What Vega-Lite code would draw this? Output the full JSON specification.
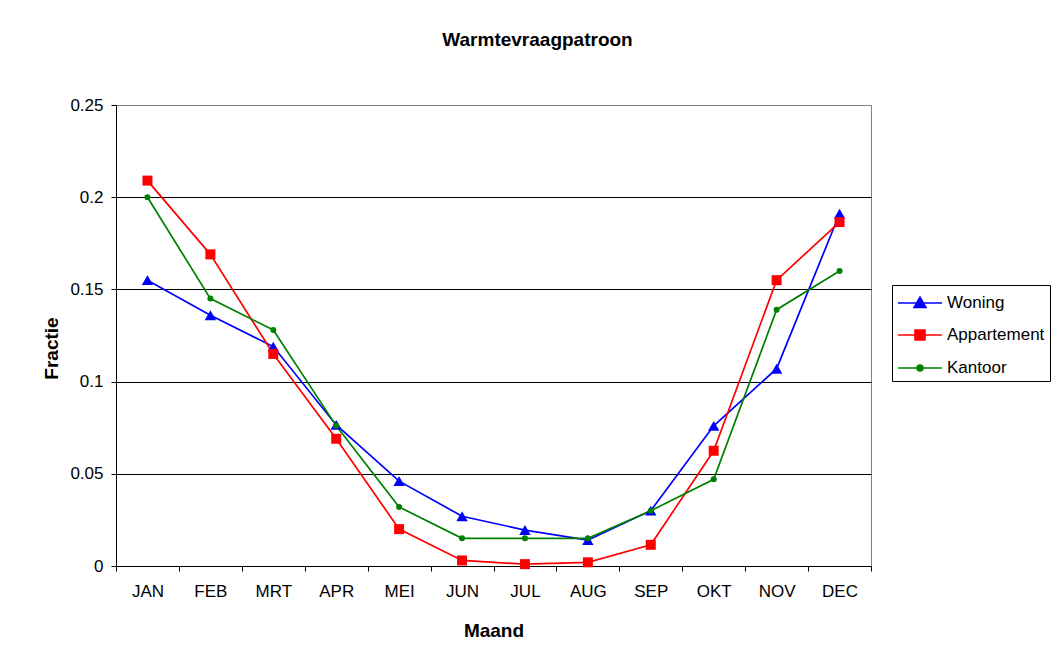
{
  "$schema": "https://vega.github.io/schema/vega-lite/v6.json",
  "autosize": {"type": "none"},
  "width": 755,
  "height": 461,
  "padding": {"left": 116, "top": 105, "right": 183, "bottom": 98},
  "background": "white",
  "title": {"text": "Warmtevraagpatroon", "fontSize": 19, "fontWeight": "bold", "font": "Liberation Sans", "color": "black", "anchor": "middle", "frame": "group", "dx": 44, "baseline": "middle", "offset": 37},
  "config": {
    "font": "Liberation Sans",
    "view": {"stroke": "#808080", "strokeWidth": 1},
    "axis": {"labelColor": "black", "titleColor": "black", "domainColor": "black", "tickColor": "black", "labelFont": "Liberation Sans", "titleFont": "Liberation Sans"}
  },
  "data": {"values": [
    {"maand": "JAN", "reeks": "Woning", "fractie": 0.155},
    {"maand": "FEB", "reeks": "Woning", "fractie": 0.136},
    {"maand": "MRT", "reeks": "Woning", "fractie": 0.119},
    {"maand": "APR", "reeks": "Woning", "fractie": 0.0765},
    {"maand": "MEI", "reeks": "Woning", "fractie": 0.046},
    {"maand": "JUN", "reeks": "Woning", "fractie": 0.027},
    {"maand": "JUL", "reeks": "Woning", "fractie": 0.0195},
    {"maand": "AUG", "reeks": "Woning", "fractie": 0.014},
    {"maand": "SEP", "reeks": "Woning", "fractie": 0.030},
    {"maand": "OKT", "reeks": "Woning", "fractie": 0.076},
    {"maand": "NOV", "reeks": "Woning", "fractie": 0.107},
    {"maand": "DEC", "reeks": "Woning", "fractie": 0.191},
    {"maand": "JAN", "reeks": "Appartement", "fractie": 0.209},
    {"maand": "FEB", "reeks": "Appartement", "fractie": 0.169},
    {"maand": "MRT", "reeks": "Appartement", "fractie": 0.115},
    {"maand": "APR", "reeks": "Appartement", "fractie": 0.069},
    {"maand": "MEI", "reeks": "Appartement", "fractie": 0.020},
    {"maand": "JUN", "reeks": "Appartement", "fractie": 0.003},
    {"maand": "JUL", "reeks": "Appartement", "fractie": 0.001},
    {"maand": "AUG", "reeks": "Appartement", "fractie": 0.002},
    {"maand": "SEP", "reeks": "Appartement", "fractie": 0.0115},
    {"maand": "OKT", "reeks": "Appartement", "fractie": 0.0625},
    {"maand": "NOV", "reeks": "Appartement", "fractie": 0.155},
    {"maand": "DEC", "reeks": "Appartement", "fractie": 0.1865},
    {"maand": "JAN", "reeks": "Kantoor", "fractie": 0.200},
    {"maand": "FEB", "reeks": "Kantoor", "fractie": 0.145},
    {"maand": "MRT", "reeks": "Kantoor", "fractie": 0.128},
    {"maand": "APR", "reeks": "Kantoor", "fractie": 0.076},
    {"maand": "MEI", "reeks": "Kantoor", "fractie": 0.032},
    {"maand": "JUN", "reeks": "Kantoor", "fractie": 0.015},
    {"maand": "JUL", "reeks": "Kantoor", "fractie": 0.015},
    {"maand": "AUG", "reeks": "Kantoor", "fractie": 0.015},
    {"maand": "SEP", "reeks": "Kantoor", "fractie": 0.030},
    {"maand": "OKT", "reeks": "Kantoor", "fractie": 0.047},
    {"maand": "NOV", "reeks": "Kantoor", "fractie": 0.139},
    {"maand": "DEC", "reeks": "Kantoor", "fractie": 0.160}
  ]},
  "encoding": {
    "x": {
      "field": "maand", "type": "ordinal",
      "sort": ["JAN", "FEB", "MRT", "APR", "MEI", "JUN", "JUL", "AUG", "SEP", "OKT", "NOV", "DEC"],
      "scale": {"type": "band", "paddingInner": 0, "paddingOuter": 0},
      "axis": {"title": "Maand", "titleFontSize": 19, "titleFontWeight": "bold", "titleY": 64, "titleBaseline": "middle", "labelFontSize": 17, "labelAngle": 0, "tickBand": "extent", "tickSize": 5, "labelPadding": 12, "grid": false}
    },
    "y": {
      "field": "fractie", "type": "quantitative",
      "scale": {"domain": [0, 0.25], "nice": false},
      "axis": {"title": "Fractie", "titleFontSize": 19, "titleFontWeight": "bold", "titleX": -65, "titleY": 243, "titleBaseline": "middle", "values": [0, 0.05, 0.1, 0.15, 0.2, 0.25], "format": "~g", "labelFontSize": 17, "tickSize": 5, "labelPadding": 8, "grid": true, "gridColor": {"condition": {"test": "datum.value === 0.25", "value": "#808080"}, "value": "#000000"}, "gridOpacity": 1}
    },
    "color": {
      "field": "reeks", "type": "nominal",
      "scale": {"domain": ["Woning", "Appartement", "Kantoor"], "range": ["#0000FF", "#FF0000", "#008000"]},
      "legend": {
        "title": null, "orient": "none", "legendX": 776, "legendY": 180,
        "strokeColor": "black", "fillColor": "white", "padding": 5,
        "labelFontSize": 17, "labelColor": "black", "labelOffset": 14, "symbolOffset": 10, "symbolSize": 576, "rowPadding": 11, "symbolStrokeWidth": 1.5,
        "encode": {"symbols": {"update": {
          "shape": {"signal": "datum.value === 'Woning' ? 'M-1.83,0H1.83M-0.5,0.375L0.5,0.375L0,-0.5Z' : datum.value === 'Appartement' ? 'M-1.83,0H1.83M-0.42,-0.42H0.42V0.42H-0.42Z' : 'M-1.83,0H1.83M-0.25,0A0.25,0.25,0,1,0,0.25,0A0.25,0.25,0,1,0,-0.25,0Z'"},
          "size": {"value": 576},
          "strokeWidth": {"value": 1.5},
          "opacity": {"value": 1}
        }}}
      }
    }
  },
  "layer": [
    {"mark": {"type": "line", "strokeWidth": 1.7}},
    {"transform": [{"filter": "datum.reeks === 'Woning'"}], "mark": {"type": "point", "filled": true, "opacity": 1, "shape": "triangle-up", "size": 130}},
    {"transform": [{"filter": "datum.reeks === 'Appartement'"}], "mark": {"type": "point", "filled": true, "opacity": 1, "shape": "square", "size": 100}},
    {"transform": [{"filter": "datum.reeks === 'Kantoor'"}], "mark": {"type": "point", "filled": true, "opacity": 1, "shape": "circle", "size": 36}}
  ]
}
